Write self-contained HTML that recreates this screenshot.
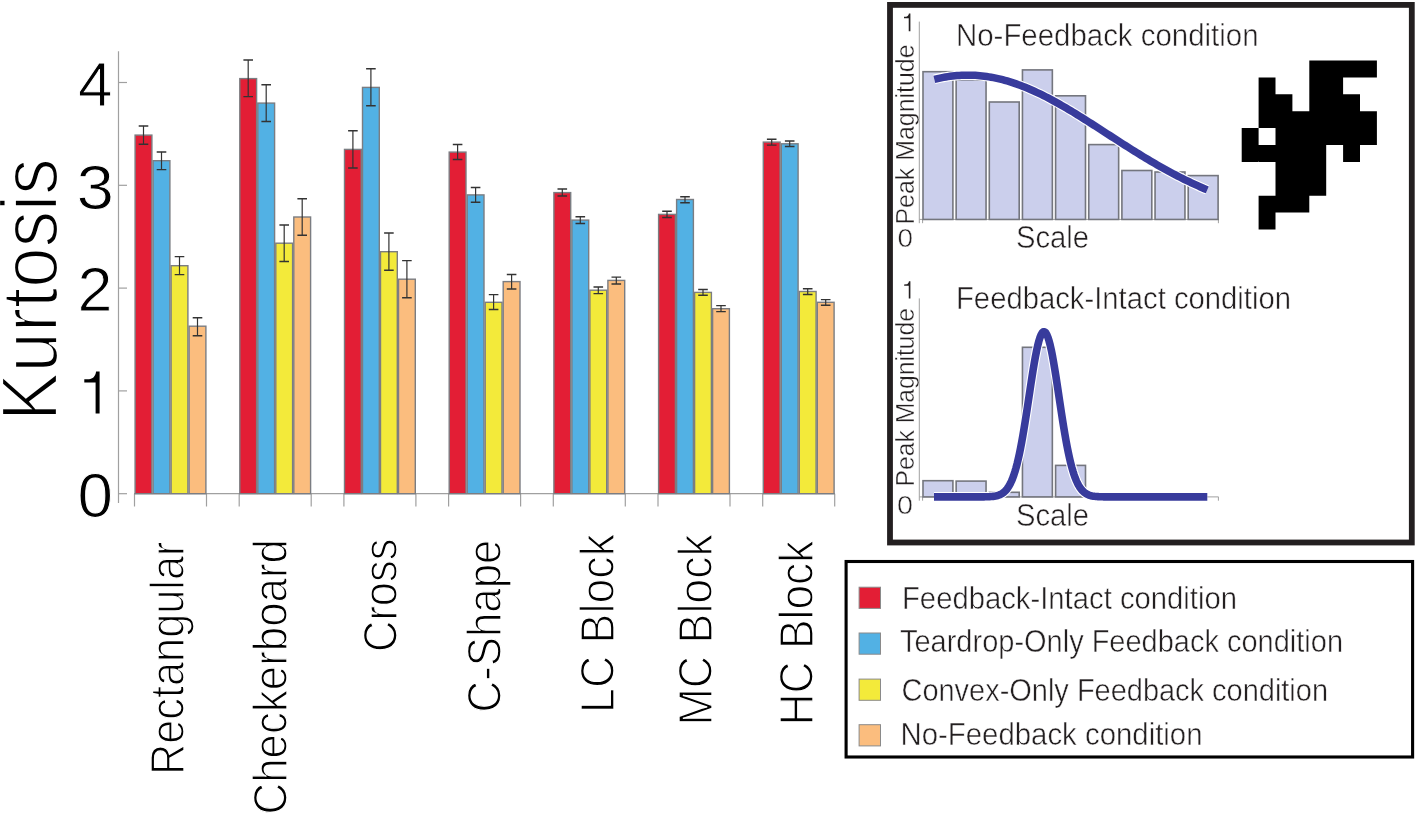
<!DOCTYPE html>
<html><head><meta charset="utf-8"><style>
html,body{margin:0;padding:0;background:#fff;overflow:hidden}
svg{display:block;will-change:transform}
text{font-family:"Liberation Sans", sans-serif;white-space:pre}
</style></head><body>
<svg width="1417" height="814" viewBox="0 0 1417 814">
<rect width="1417" height="814" fill="#fff"/>
<line x1="118.5" y1="51.2" x2="118.5" y2="503" stroke="#a0a0a0" stroke-width="1.2"/>
<line x1="118.5" y1="493.7" x2="127" y2="493.7" stroke="#a0a0a0" stroke-width="1.2"/>
<line x1="118.5" y1="390.9" x2="127" y2="390.9" stroke="#a0a0a0" stroke-width="1.2"/>
<line x1="118.5" y1="288.1" x2="127" y2="288.1" stroke="#a0a0a0" stroke-width="1.2"/>
<line x1="118.5" y1="185.3" x2="127" y2="185.3" stroke="#a0a0a0" stroke-width="1.2"/>
<line x1="118.5" y1="82.5" x2="127" y2="82.5" stroke="#a0a0a0" stroke-width="1.2"/>
<line x1="134" y1="493.7" x2="835" y2="493.7" stroke="#a0a0a0" stroke-width="1.2"/>
<line x1="134.5" y1="493.7" x2="134.5" y2="506.5" stroke="#a0a0a0" stroke-width="1.2"/>
<line x1="206.5" y1="493.7" x2="206.5" y2="506.5" stroke="#a0a0a0" stroke-width="1.2"/>
<line x1="239.2" y1="493.7" x2="239.2" y2="506.5" stroke="#a0a0a0" stroke-width="1.2"/>
<line x1="311.2" y1="493.7" x2="311.2" y2="506.5" stroke="#a0a0a0" stroke-width="1.2"/>
<line x1="343.9" y1="493.7" x2="343.9" y2="506.5" stroke="#a0a0a0" stroke-width="1.2"/>
<line x1="415.9" y1="493.7" x2="415.9" y2="506.5" stroke="#a0a0a0" stroke-width="1.2"/>
<line x1="448.6" y1="493.7" x2="448.6" y2="506.5" stroke="#a0a0a0" stroke-width="1.2"/>
<line x1="520.6" y1="493.7" x2="520.6" y2="506.5" stroke="#a0a0a0" stroke-width="1.2"/>
<line x1="553.3" y1="493.7" x2="553.3" y2="506.5" stroke="#a0a0a0" stroke-width="1.2"/>
<line x1="625.3" y1="493.7" x2="625.3" y2="506.5" stroke="#a0a0a0" stroke-width="1.2"/>
<line x1="658.0" y1="493.7" x2="658.0" y2="506.5" stroke="#a0a0a0" stroke-width="1.2"/>
<line x1="730.0" y1="493.7" x2="730.0" y2="506.5" stroke="#a0a0a0" stroke-width="1.2"/>
<line x1="762.7" y1="493.7" x2="762.7" y2="506.5" stroke="#a0a0a0" stroke-width="1.2"/>
<line x1="834.7" y1="493.7" x2="834.7" y2="506.5" stroke="#a0a0a0" stroke-width="1.2"/>
<rect x="135.1" y="135.1" width="16.8" height="358.6" fill="#e31e35" stroke="#7b7d82" stroke-width="1.4"/>
<rect x="153.1" y="160.7" width="16.8" height="333.0" fill="#52b1e4" stroke="#7b7d82" stroke-width="1.4"/>
<rect x="171.1" y="265.7" width="16.8" height="228.0" fill="#f3ea3a" stroke="#7b7d82" stroke-width="1.4"/>
<rect x="189.1" y="326.2" width="16.8" height="167.5" fill="#fbbd7e" stroke="#7b7d82" stroke-width="1.4"/>
<rect x="239.8" y="78.6" width="16.8" height="415.1" fill="#e31e35" stroke="#7b7d82" stroke-width="1.4"/>
<rect x="257.8" y="103.1" width="16.8" height="390.6" fill="#52b1e4" stroke="#7b7d82" stroke-width="1.4"/>
<rect x="275.8" y="243.2" width="16.8" height="250.5" fill="#f3ea3a" stroke="#7b7d82" stroke-width="1.4"/>
<rect x="293.8" y="217.0" width="16.8" height="276.7" fill="#fbbd7e" stroke="#7b7d82" stroke-width="1.4"/>
<rect x="344.5" y="149.4" width="16.8" height="344.3" fill="#e31e35" stroke="#7b7d82" stroke-width="1.4"/>
<rect x="362.5" y="87.4" width="16.8" height="406.3" fill="#52b1e4" stroke="#7b7d82" stroke-width="1.4"/>
<rect x="380.5" y="251.7" width="16.8" height="242.0" fill="#f3ea3a" stroke="#7b7d82" stroke-width="1.4"/>
<rect x="398.5" y="279.2" width="16.8" height="214.5" fill="#fbbd7e" stroke="#7b7d82" stroke-width="1.4"/>
<rect x="449.2" y="152.1" width="16.8" height="341.6" fill="#e31e35" stroke="#7b7d82" stroke-width="1.4"/>
<rect x="467.2" y="194.9" width="16.8" height="298.8" fill="#52b1e4" stroke="#7b7d82" stroke-width="1.4"/>
<rect x="485.2" y="302.3" width="16.8" height="191.4" fill="#f3ea3a" stroke="#7b7d82" stroke-width="1.4"/>
<rect x="503.2" y="281.6" width="16.8" height="212.1" fill="#fbbd7e" stroke="#7b7d82" stroke-width="1.4"/>
<rect x="553.9" y="192.6" width="16.8" height="301.1" fill="#e31e35" stroke="#7b7d82" stroke-width="1.4"/>
<rect x="571.9" y="220.1" width="16.8" height="273.6" fill="#52b1e4" stroke="#7b7d82" stroke-width="1.4"/>
<rect x="589.9" y="290.2" width="16.8" height="203.5" fill="#f3ea3a" stroke="#7b7d82" stroke-width="1.4"/>
<rect x="607.9" y="280.4" width="16.8" height="213.3" fill="#fbbd7e" stroke="#7b7d82" stroke-width="1.4"/>
<rect x="658.6" y="214.4" width="16.8" height="279.3" fill="#e31e35" stroke="#7b7d82" stroke-width="1.4"/>
<rect x="676.6" y="199.5" width="16.8" height="294.2" fill="#52b1e4" stroke="#7b7d82" stroke-width="1.4"/>
<rect x="694.6" y="292.4" width="16.8" height="201.3" fill="#f3ea3a" stroke="#7b7d82" stroke-width="1.4"/>
<rect x="712.6" y="308.7" width="16.8" height="185.0" fill="#fbbd7e" stroke="#7b7d82" stroke-width="1.4"/>
<rect x="763.3" y="142.1" width="16.8" height="351.6" fill="#e31e35" stroke="#7b7d82" stroke-width="1.4"/>
<rect x="781.3" y="143.8" width="16.8" height="349.9" fill="#52b1e4" stroke="#7b7d82" stroke-width="1.4"/>
<rect x="799.3" y="291.5" width="16.8" height="202.2" fill="#f3ea3a" stroke="#7b7d82" stroke-width="1.4"/>
<rect x="817.3" y="302.3" width="16.8" height="191.4" fill="#fbbd7e" stroke="#7b7d82" stroke-width="1.4"/>
<path d="M143.5 125.9V144.2" stroke="#333" stroke-width="1.2" fill="none"/>
<path d="M138.7 125.9h9.6M138.7 144.2h9.6" stroke="#333" stroke-width="1.45" fill="none"/>
<path d="M161.5 151.9V169.6" stroke="#333" stroke-width="1.2" fill="none"/>
<path d="M156.7 151.9h9.6M156.7 169.6h9.6" stroke="#333" stroke-width="1.45" fill="none"/>
<path d="M179.5 256.6V274.6" stroke="#333" stroke-width="1.2" fill="none"/>
<path d="M174.7 256.6h9.6M174.7 274.6h9.6" stroke="#333" stroke-width="1.45" fill="none"/>
<path d="M197.5 317.7V335.7" stroke="#333" stroke-width="1.2" fill="none"/>
<path d="M192.7 317.7h9.6M192.7 335.7h9.6" stroke="#333" stroke-width="1.45" fill="none"/>
<path d="M248.2 60.0V96.6" stroke="#333" stroke-width="1.2" fill="none"/>
<path d="M243.4 60.0h9.6M243.4 96.6h9.6" stroke="#333" stroke-width="1.45" fill="none"/>
<path d="M266.2 84.8V121.4" stroke="#333" stroke-width="1.2" fill="none"/>
<path d="M261.4 84.8h9.6M261.4 121.4h9.6" stroke="#333" stroke-width="1.45" fill="none"/>
<path d="M284.2 224.9V261.5" stroke="#333" stroke-width="1.2" fill="none"/>
<path d="M279.4 224.9h9.6M279.4 261.5h9.6" stroke="#333" stroke-width="1.45" fill="none"/>
<path d="M302.2 198.7V235.2" stroke="#333" stroke-width="1.2" fill="none"/>
<path d="M297.4 198.7h9.6M297.4 235.2h9.6" stroke="#333" stroke-width="1.45" fill="none"/>
<path d="M352.9 130.8V168.0" stroke="#333" stroke-width="1.2" fill="none"/>
<path d="M348.1 130.8h9.6M348.1 168.0h9.6" stroke="#333" stroke-width="1.45" fill="none"/>
<path d="M370.9 68.8V105.7" stroke="#333" stroke-width="1.2" fill="none"/>
<path d="M366.1 68.8h9.6M366.1 105.7h9.6" stroke="#333" stroke-width="1.45" fill="none"/>
<path d="M388.9 232.9V270.3" stroke="#333" stroke-width="1.2" fill="none"/>
<path d="M384.1 232.9h9.6M384.1 270.3h9.6" stroke="#333" stroke-width="1.45" fill="none"/>
<path d="M406.9 260.6V297.8" stroke="#333" stroke-width="1.2" fill="none"/>
<path d="M402.1 260.6h9.6M402.1 297.8h9.6" stroke="#333" stroke-width="1.45" fill="none"/>
<path d="M457.6 144.5V159.5" stroke="#333" stroke-width="1.2" fill="none"/>
<path d="M452.8 144.5h9.6M452.8 159.5h9.6" stroke="#333" stroke-width="1.45" fill="none"/>
<path d="M475.6 187.5V202.3" stroke="#333" stroke-width="1.2" fill="none"/>
<path d="M470.8 187.5h9.6M470.8 202.3h9.6" stroke="#333" stroke-width="1.45" fill="none"/>
<path d="M493.6 294.6V309.4" stroke="#333" stroke-width="1.2" fill="none"/>
<path d="M488.8 294.6h9.6M488.8 309.4h9.6" stroke="#333" stroke-width="1.45" fill="none"/>
<path d="M511.6 274.5V289.0" stroke="#333" stroke-width="1.2" fill="none"/>
<path d="M506.8 274.5h9.6M506.8 289.0h9.6" stroke="#333" stroke-width="1.45" fill="none"/>
<path d="M562.3 189.0V195.9" stroke="#333" stroke-width="1.2" fill="none"/>
<path d="M557.5 189.0h9.6M557.5 195.9h9.6" stroke="#333" stroke-width="1.45" fill="none"/>
<path d="M580.3 216.8V223.4" stroke="#333" stroke-width="1.2" fill="none"/>
<path d="M575.5 216.8h9.6M575.5 223.4h9.6" stroke="#333" stroke-width="1.45" fill="none"/>
<path d="M598.3 286.9V293.6" stroke="#333" stroke-width="1.2" fill="none"/>
<path d="M593.5 286.9h9.6M593.5 293.6h9.6" stroke="#333" stroke-width="1.45" fill="none"/>
<path d="M616.3 277.1V284.0" stroke="#333" stroke-width="1.2" fill="none"/>
<path d="M611.5 277.1h9.6M611.5 284.0h9.6" stroke="#333" stroke-width="1.45" fill="none"/>
<path d="M667.0 211.3V217.5" stroke="#333" stroke-width="1.2" fill="none"/>
<path d="M662.2 211.3h9.6M662.2 217.5h9.6" stroke="#333" stroke-width="1.45" fill="none"/>
<path d="M685.0 196.7V202.8" stroke="#333" stroke-width="1.2" fill="none"/>
<path d="M680.2 196.7h9.6M680.2 202.8h9.6" stroke="#333" stroke-width="1.45" fill="none"/>
<path d="M703.0 289.5V295.3" stroke="#333" stroke-width="1.2" fill="none"/>
<path d="M698.2 289.5h9.6M698.2 295.3h9.6" stroke="#333" stroke-width="1.45" fill="none"/>
<path d="M721.0 305.6V311.6" stroke="#333" stroke-width="1.2" fill="none"/>
<path d="M716.2 305.6h9.6M716.2 311.6h9.6" stroke="#333" stroke-width="1.45" fill="none"/>
<path d="M771.7 139.2V145.1" stroke="#333" stroke-width="1.2" fill="none"/>
<path d="M766.9 139.2h9.6M766.9 145.1h9.6" stroke="#333" stroke-width="1.45" fill="none"/>
<path d="M789.7 140.9V146.5" stroke="#333" stroke-width="1.2" fill="none"/>
<path d="M784.9 140.9h9.6M784.9 146.5h9.6" stroke="#333" stroke-width="1.45" fill="none"/>
<path d="M807.7 288.8V294.4" stroke="#333" stroke-width="1.2" fill="none"/>
<path d="M802.9 288.8h9.6M802.9 294.4h9.6" stroke="#333" stroke-width="1.45" fill="none"/>
<path d="M825.7 299.6V305.3" stroke="#333" stroke-width="1.2" fill="none"/>
<path d="M820.9 299.6h9.6M820.9 305.3h9.6" stroke="#333" stroke-width="1.45" fill="none"/>
<rect x="890.0" y="4.9" width="521.8" height="537.6" fill="none" stroke="#231f20" stroke-width="5.8"/>
<line x1="919.3" y1="21.6" x2="919.3" y2="223.2" stroke="#a0a0a0" stroke-width="1"/>
<line x1="919.3" y1="219.4" x2="1218.5" y2="219.4" stroke="#a0a0a0" stroke-width="1"/>
<line x1="922.6" y1="219.4" x2="922.6" y2="223.2" stroke="#a0a0a0" stroke-width="1"/>
<line x1="1218.4" y1="219.4" x2="1218.4" y2="223.2" stroke="#a0a0a0" stroke-width="1"/>
<rect x="923.00" y="71.70" width="29.9" height="147.75" fill="#cbcfec" stroke="#74767e" stroke-width="1.6"/>
<rect x="956.15" y="79.80" width="29.9" height="139.65" fill="#cbcfec" stroke="#74767e" stroke-width="1.6"/>
<rect x="989.30" y="102.00" width="29.9" height="117.45" fill="#cbcfec" stroke="#74767e" stroke-width="1.6"/>
<rect x="1022.45" y="69.90" width="29.9" height="149.55" fill="#cbcfec" stroke="#74767e" stroke-width="1.6"/>
<rect x="1055.60" y="95.80" width="29.9" height="123.65" fill="#cbcfec" stroke="#74767e" stroke-width="1.6"/>
<rect x="1088.75" y="144.60" width="29.9" height="74.85" fill="#cbcfec" stroke="#74767e" stroke-width="1.6"/>
<rect x="1121.90" y="170.50" width="29.9" height="48.95" fill="#cbcfec" stroke="#74767e" stroke-width="1.6"/>
<rect x="1155.05" y="172.00" width="29.9" height="47.45" fill="#cbcfec" stroke="#74767e" stroke-width="1.6"/>
<rect x="1188.20" y="175.60" width="29.9" height="43.85" fill="#cbcfec" stroke="#74767e" stroke-width="1.6"/>
<line x1="919.3" y1="298.4" x2="919.3" y2="500.7" stroke="#a0a0a0" stroke-width="1"/>
<line x1="919.3" y1="496.9" x2="1218.5" y2="496.9" stroke="#a0a0a0" stroke-width="1"/>
<line x1="922.6" y1="496.9" x2="922.6" y2="500.7" stroke="#a0a0a0" stroke-width="1"/>
<line x1="1218.4" y1="496.9" x2="1218.4" y2="500.7" stroke="#a0a0a0" stroke-width="1"/>
<rect x="923.00" y="480.70" width="29.9" height="16.20" fill="#cbcfec" stroke="#74767e" stroke-width="1.6"/>
<rect x="956.15" y="481.10" width="29.9" height="15.80" fill="#cbcfec" stroke="#74767e" stroke-width="1.6"/>
<rect x="989.30" y="492.30" width="29.9" height="4.60" fill="#cbcfec" stroke="#74767e" stroke-width="1.6"/>
<rect x="1022.45" y="347.30" width="29.9" height="149.60" fill="#cbcfec" stroke="#74767e" stroke-width="1.6"/>
<rect x="1055.60" y="465.40" width="29.9" height="31.50" fill="#cbcfec" stroke="#74767e" stroke-width="1.6"/>
<path d="M934.30,79.35 L936.57,78.80 L938.85,78.29 L941.12,77.81 L943.40,77.38 L945.67,76.98 L947.95,76.62 L950.22,76.30 L952.50,76.01 L954.77,75.77 L957.05,75.56 L959.32,75.40 L961.60,75.27 L963.88,75.19 L966.15,75.14 L968.42,75.13 L970.70,75.16 L972.97,75.24 L975.25,75.35 L977.52,75.50 L979.80,75.69 L982.07,75.92 L984.35,76.19 L986.62,76.50 L988.90,76.84 L991.17,77.23 L993.45,77.65 L995.72,78.11 L998.00,78.61 L1000.27,79.14 L1002.55,79.72 L1004.82,80.32 L1007.10,80.97 L1009.38,81.64 L1011.65,82.36 L1013.92,83.10 L1016.20,83.88 L1018.47,84.70 L1020.75,85.54 L1023.02,86.42 L1025.30,87.33 L1027.58,88.26 L1029.85,89.23 L1032.12,90.23 L1034.40,91.25 L1036.67,92.30 L1038.95,93.38 L1041.22,94.48 L1043.50,95.61 L1045.77,96.76 L1048.05,97.94 L1050.33,99.14 L1052.60,100.36 L1054.88,101.60 L1057.15,102.86 L1059.42,104.13 L1061.70,105.43 L1063.97,106.74 L1066.25,108.08 L1068.52,109.42 L1070.80,110.78 L1073.08,112.15 L1075.35,113.54 L1077.62,114.94 L1079.90,116.35 L1082.17,117.77 L1084.45,119.20 L1086.72,120.63 L1089.00,122.08 L1091.27,123.53 L1093.55,124.98 L1095.83,126.44 L1098.10,127.91 L1100.38,129.38 L1102.65,130.85 L1104.92,132.32 L1107.20,133.79 L1109.47,135.26 L1111.75,136.74 L1114.02,138.20 L1116.30,139.67 L1118.58,141.14 L1120.85,142.60 L1123.12,144.05 L1125.40,145.50 L1127.67,146.95 L1129.95,148.38 L1132.22,149.81 L1134.50,151.24 L1136.77,152.65 L1139.05,154.06 L1141.33,155.45 L1143.60,156.84 L1145.88,158.21 L1148.15,159.57 L1150.42,160.93 L1152.70,162.27 L1154.97,163.59 L1157.25,164.91 L1159.52,166.21 L1161.80,167.49 L1164.08,168.77 L1166.35,170.02 L1168.62,171.27 L1170.90,172.49 L1173.17,173.71 L1175.45,174.90 L1177.72,176.08 L1180.00,177.25 L1182.27,178.40 L1184.55,179.53 L1186.83,180.64 L1189.10,181.74 L1191.38,182.82 L1193.65,183.88 L1195.92,184.93 L1198.20,185.95 L1200.47,186.96 L1202.75,187.96 L1205.03,188.93 L1207.30,189.89" fill="none" stroke="#fff" stroke-width="9.7" stroke-linejoin="round"/>
<path d="M934.30,79.35 L936.57,78.80 L938.85,78.29 L941.12,77.81 L943.40,77.38 L945.67,76.98 L947.95,76.62 L950.22,76.30 L952.50,76.01 L954.77,75.77 L957.05,75.56 L959.32,75.40 L961.60,75.27 L963.88,75.19 L966.15,75.14 L968.42,75.13 L970.70,75.16 L972.97,75.24 L975.25,75.35 L977.52,75.50 L979.80,75.69 L982.07,75.92 L984.35,76.19 L986.62,76.50 L988.90,76.84 L991.17,77.23 L993.45,77.65 L995.72,78.11 L998.00,78.61 L1000.27,79.14 L1002.55,79.72 L1004.82,80.32 L1007.10,80.97 L1009.38,81.64 L1011.65,82.36 L1013.92,83.10 L1016.20,83.88 L1018.47,84.70 L1020.75,85.54 L1023.02,86.42 L1025.30,87.33 L1027.58,88.26 L1029.85,89.23 L1032.12,90.23 L1034.40,91.25 L1036.67,92.30 L1038.95,93.38 L1041.22,94.48 L1043.50,95.61 L1045.77,96.76 L1048.05,97.94 L1050.33,99.14 L1052.60,100.36 L1054.88,101.60 L1057.15,102.86 L1059.42,104.13 L1061.70,105.43 L1063.97,106.74 L1066.25,108.08 L1068.52,109.42 L1070.80,110.78 L1073.08,112.15 L1075.35,113.54 L1077.62,114.94 L1079.90,116.35 L1082.17,117.77 L1084.45,119.20 L1086.72,120.63 L1089.00,122.08 L1091.27,123.53 L1093.55,124.98 L1095.83,126.44 L1098.10,127.91 L1100.38,129.38 L1102.65,130.85 L1104.92,132.32 L1107.20,133.79 L1109.47,135.26 L1111.75,136.74 L1114.02,138.20 L1116.30,139.67 L1118.58,141.14 L1120.85,142.60 L1123.12,144.05 L1125.40,145.50 L1127.67,146.95 L1129.95,148.38 L1132.22,149.81 L1134.50,151.24 L1136.77,152.65 L1139.05,154.06 L1141.33,155.45 L1143.60,156.84 L1145.88,158.21 L1148.15,159.57 L1150.42,160.93 L1152.70,162.27 L1154.97,163.59 L1157.25,164.91 L1159.52,166.21 L1161.80,167.49 L1164.08,168.77 L1166.35,170.02 L1168.62,171.27 L1170.90,172.49 L1173.17,173.71 L1175.45,174.90 L1177.72,176.08 L1180.00,177.25 L1182.27,178.40 L1184.55,179.53 L1186.83,180.64 L1189.10,181.74 L1191.38,182.82 L1193.65,183.88 L1195.92,184.93 L1198.20,185.95 L1200.47,186.96 L1202.75,187.96 L1205.03,188.93 L1207.30,189.89" fill="none" stroke="#383b9c" stroke-width="7.5" stroke-linejoin="round"/>
<path d="M934.00,496.90 L935.14,496.90 L936.28,496.90 L937.42,496.90 L938.55,496.90 L939.69,496.90 L940.83,496.90 L941.97,496.90 L943.11,496.90 L944.25,496.90 L945.39,496.90 L946.53,496.90 L947.66,496.90 L948.80,496.90 L949.94,496.90 L951.08,496.90 L952.22,496.90 L953.36,496.90 L954.50,496.90 L955.64,496.90 L956.77,496.90 L957.91,496.90 L959.05,496.90 L960.19,496.90 L961.33,496.90 L962.47,496.90 L963.61,496.90 L964.75,496.90 L965.88,496.90 L967.02,496.90 L968.16,496.90 L969.30,496.90 L970.44,496.90 L971.58,496.90 L972.72,496.90 L973.86,496.90 L975.00,496.90 L976.13,496.89 L977.27,496.89 L978.41,496.89 L979.55,496.88 L980.69,496.88 L981.83,496.87 L982.97,496.86 L984.11,496.84 L985.24,496.82 L986.38,496.80 L987.52,496.76 L988.66,496.72 L989.80,496.66 L990.94,496.58 L992.08,496.49 L993.22,496.36 L994.35,496.21 L995.49,496.01 L996.63,495.77 L997.77,495.47 L998.91,495.10 L1000.05,494.64 L1001.19,494.09 L1002.33,493.42 L1003.46,492.61 L1004.60,491.65 L1005.74,490.51 L1006.88,489.17 L1008.02,487.60 L1009.16,485.77 L1010.30,483.67 L1011.43,481.25 L1012.57,478.50 L1013.71,475.39 L1014.85,471.90 L1015.99,468.00 L1017.13,463.70 L1018.27,458.97 L1019.41,453.82 L1020.54,448.25 L1021.68,442.28 L1022.82,435.92 L1023.96,429.22 L1025.10,422.21 L1026.24,414.95 L1027.38,407.50 L1028.52,399.93 L1029.65,392.33 L1030.79,384.78 L1031.93,377.37 L1033.07,370.21 L1034.21,363.39 L1035.35,357.01 L1036.49,351.17 L1037.63,345.96 L1038.76,341.46 L1039.90,337.75 L1041.04,334.88 L1042.18,332.91 L1043.32,331.87 L1044.46,331.78 L1045.60,332.63 L1046.74,334.43 L1047.88,337.12 L1049.01,340.68 L1050.15,345.03 L1051.29,350.11 L1052.43,355.83 L1053.57,362.11 L1054.71,368.86 L1055.85,375.96 L1056.98,383.32 L1058.12,390.85 L1059.26,398.45 L1060.40,406.03 L1061.54,413.51 L1062.68,420.82 L1063.82,427.88 L1064.96,434.65 L1066.10,441.07 L1067.23,447.12 L1068.37,452.77 L1069.51,458.00 L1070.65,462.81 L1071.79,467.20 L1072.93,471.17 L1074.07,474.74 L1075.20,477.92 L1076.34,480.74 L1077.48,483.22 L1078.62,485.39 L1079.76,487.26 L1080.90,488.88 L1082.04,490.27 L1083.18,491.44 L1084.32,492.44 L1085.45,493.27 L1086.59,493.97 L1087.73,494.54 L1088.87,495.02 L1090.01,495.40 L1091.15,495.72 L1092.29,495.97 L1093.42,496.17 L1094.56,496.34 L1095.70,496.47 L1096.84,496.57 L1097.98,496.65 L1099.12,496.71 L1100.26,496.75 L1101.40,496.79 L1102.53,496.82 L1103.67,496.84 L1104.81,496.86 L1105.95,496.87 L1107.09,496.88 L1108.23,496.88 L1109.37,496.89 L1110.51,496.89 L1111.64,496.89 L1112.78,496.90 L1113.92,496.90 L1115.06,496.90 L1116.20,496.90 L1117.34,496.90 L1118.48,496.90 L1119.62,496.90 L1120.75,496.90 L1121.89,496.90 L1123.03,496.90 L1124.17,496.90 L1125.31,496.90 L1126.45,496.90 L1127.59,496.90 L1128.73,496.90 L1129.87,496.90 L1131.00,496.90 L1132.14,496.90 L1133.28,496.90 L1134.42,496.90 L1135.56,496.90 L1136.70,496.90 L1137.84,496.90 L1138.97,496.90 L1140.11,496.90 L1141.25,496.90 L1142.39,496.90 L1143.53,496.90 L1144.67,496.90 L1145.81,496.90 L1146.95,496.90 L1148.09,496.90 L1149.22,496.90 L1150.36,496.90 L1151.50,496.90 L1152.64,496.90 L1153.78,496.90 L1154.92,496.90 L1156.06,496.90 L1157.19,496.90 L1158.33,496.90 L1159.47,496.90 L1160.61,496.90 L1161.75,496.90 L1162.89,496.90 L1164.03,496.90 L1165.17,496.90 L1166.30,496.90 L1167.44,496.90 L1168.58,496.90 L1169.72,496.90 L1170.86,496.90 L1172.00,496.90 L1173.14,496.90 L1174.28,496.90 L1175.41,496.90 L1176.55,496.90 L1177.69,496.90 L1178.83,496.90 L1179.97,496.90 L1181.11,496.90 L1182.25,496.90 L1183.39,496.90 L1184.53,496.90 L1185.66,496.90 L1186.80,496.90 L1187.94,496.90 L1189.08,496.90 L1190.22,496.90 L1191.36,496.90 L1192.50,496.90 L1193.63,496.90 L1194.77,496.90 L1195.91,496.90 L1197.05,496.90 L1198.19,496.90 L1199.33,496.90 L1200.47,496.90 L1201.61,496.90 L1202.74,496.90 L1203.88,496.90 L1205.02,496.90 L1206.16,496.90 L1207.30,496.90" fill="none" stroke="#fff" stroke-width="9.8" stroke-linejoin="round"/>
<path d="M934.00,496.90 L935.14,496.90 L936.28,496.90 L937.42,496.90 L938.55,496.90 L939.69,496.90 L940.83,496.90 L941.97,496.90 L943.11,496.90 L944.25,496.90 L945.39,496.90 L946.53,496.90 L947.66,496.90 L948.80,496.90 L949.94,496.90 L951.08,496.90 L952.22,496.90 L953.36,496.90 L954.50,496.90 L955.64,496.90 L956.77,496.90 L957.91,496.90 L959.05,496.90 L960.19,496.90 L961.33,496.90 L962.47,496.90 L963.61,496.90 L964.75,496.90 L965.88,496.90 L967.02,496.90 L968.16,496.90 L969.30,496.90 L970.44,496.90 L971.58,496.90 L972.72,496.90 L973.86,496.90 L975.00,496.90 L976.13,496.89 L977.27,496.89 L978.41,496.89 L979.55,496.88 L980.69,496.88 L981.83,496.87 L982.97,496.86 L984.11,496.84 L985.24,496.82 L986.38,496.80 L987.52,496.76 L988.66,496.72 L989.80,496.66 L990.94,496.58 L992.08,496.49 L993.22,496.36 L994.35,496.21 L995.49,496.01 L996.63,495.77 L997.77,495.47 L998.91,495.10 L1000.05,494.64 L1001.19,494.09 L1002.33,493.42 L1003.46,492.61 L1004.60,491.65 L1005.74,490.51 L1006.88,489.17 L1008.02,487.60 L1009.16,485.77 L1010.30,483.67 L1011.43,481.25 L1012.57,478.50 L1013.71,475.39 L1014.85,471.90 L1015.99,468.00 L1017.13,463.70 L1018.27,458.97 L1019.41,453.82 L1020.54,448.25 L1021.68,442.28 L1022.82,435.92 L1023.96,429.22 L1025.10,422.21 L1026.24,414.95 L1027.38,407.50 L1028.52,399.93 L1029.65,392.33 L1030.79,384.78 L1031.93,377.37 L1033.07,370.21 L1034.21,363.39 L1035.35,357.01 L1036.49,351.17 L1037.63,345.96 L1038.76,341.46 L1039.90,337.75 L1041.04,334.88 L1042.18,332.91 L1043.32,331.87 L1044.46,331.78 L1045.60,332.63 L1046.74,334.43 L1047.88,337.12 L1049.01,340.68 L1050.15,345.03 L1051.29,350.11 L1052.43,355.83 L1053.57,362.11 L1054.71,368.86 L1055.85,375.96 L1056.98,383.32 L1058.12,390.85 L1059.26,398.45 L1060.40,406.03 L1061.54,413.51 L1062.68,420.82 L1063.82,427.88 L1064.96,434.65 L1066.10,441.07 L1067.23,447.12 L1068.37,452.77 L1069.51,458.00 L1070.65,462.81 L1071.79,467.20 L1072.93,471.17 L1074.07,474.74 L1075.20,477.92 L1076.34,480.74 L1077.48,483.22 L1078.62,485.39 L1079.76,487.26 L1080.90,488.88 L1082.04,490.27 L1083.18,491.44 L1084.32,492.44 L1085.45,493.27 L1086.59,493.97 L1087.73,494.54 L1088.87,495.02 L1090.01,495.40 L1091.15,495.72 L1092.29,495.97 L1093.42,496.17 L1094.56,496.34 L1095.70,496.47 L1096.84,496.57 L1097.98,496.65 L1099.12,496.71 L1100.26,496.75 L1101.40,496.79 L1102.53,496.82 L1103.67,496.84 L1104.81,496.86 L1105.95,496.87 L1107.09,496.88 L1108.23,496.88 L1109.37,496.89 L1110.51,496.89 L1111.64,496.89 L1112.78,496.90 L1113.92,496.90 L1115.06,496.90 L1116.20,496.90 L1117.34,496.90 L1118.48,496.90 L1119.62,496.90 L1120.75,496.90 L1121.89,496.90 L1123.03,496.90 L1124.17,496.90 L1125.31,496.90 L1126.45,496.90 L1127.59,496.90 L1128.73,496.90 L1129.87,496.90 L1131.00,496.90 L1132.14,496.90 L1133.28,496.90 L1134.42,496.90 L1135.56,496.90 L1136.70,496.90 L1137.84,496.90 L1138.97,496.90 L1140.11,496.90 L1141.25,496.90 L1142.39,496.90 L1143.53,496.90 L1144.67,496.90 L1145.81,496.90 L1146.95,496.90 L1148.09,496.90 L1149.22,496.90 L1150.36,496.90 L1151.50,496.90 L1152.64,496.90 L1153.78,496.90 L1154.92,496.90 L1156.06,496.90 L1157.19,496.90 L1158.33,496.90 L1159.47,496.90 L1160.61,496.90 L1161.75,496.90 L1162.89,496.90 L1164.03,496.90 L1165.17,496.90 L1166.30,496.90 L1167.44,496.90 L1168.58,496.90 L1169.72,496.90 L1170.86,496.90 L1172.00,496.90 L1173.14,496.90 L1174.28,496.90 L1175.41,496.90 L1176.55,496.90 L1177.69,496.90 L1178.83,496.90 L1179.97,496.90 L1181.11,496.90 L1182.25,496.90 L1183.39,496.90 L1184.53,496.90 L1185.66,496.90 L1186.80,496.90 L1187.94,496.90 L1189.08,496.90 L1190.22,496.90 L1191.36,496.90 L1192.50,496.90 L1193.63,496.90 L1194.77,496.90 L1195.91,496.90 L1197.05,496.90 L1198.19,496.90 L1199.33,496.90 L1200.47,496.90 L1201.61,496.90 L1202.74,496.90 L1203.88,496.90 L1205.02,496.90 L1206.16,496.90 L1207.30,496.90" fill="none" stroke="#383b9c" stroke-width="7.6" stroke-linejoin="round"/>
<path d="M1309.30 60.50h16.9v16.9h-16.9zM1326.20 60.50h16.9v16.9h-16.9zM1343.10 60.50h16.9v16.9h-16.9zM1360.00 60.50h16.9v16.9h-16.9zM1258.60 77.40h16.9v16.9h-16.9zM1309.30 77.40h16.9v16.9h-16.9zM1326.20 77.40h16.9v16.9h-16.9zM1258.60 94.30h16.9v16.9h-16.9zM1275.50 94.30h16.9v16.9h-16.9zM1309.30 94.30h16.9v16.9h-16.9zM1326.20 94.30h16.9v16.9h-16.9zM1343.10 94.30h16.9v16.9h-16.9zM1258.60 111.20h16.9v16.9h-16.9zM1275.50 111.20h16.9v16.9h-16.9zM1292.40 111.20h16.9v16.9h-16.9zM1309.30 111.20h16.9v16.9h-16.9zM1326.20 111.20h16.9v16.9h-16.9zM1343.10 111.20h16.9v16.9h-16.9zM1360.00 111.20h16.9v16.9h-16.9zM1241.70 128.10h16.9v16.9h-16.9zM1275.50 128.10h16.9v16.9h-16.9zM1292.40 128.10h16.9v16.9h-16.9zM1309.30 128.10h16.9v16.9h-16.9zM1326.20 128.10h16.9v16.9h-16.9zM1343.10 128.10h16.9v16.9h-16.9zM1360.00 128.10h16.9v16.9h-16.9zM1241.70 145.00h16.9v16.9h-16.9zM1258.60 145.00h16.9v16.9h-16.9zM1275.50 145.00h16.9v16.9h-16.9zM1292.40 145.00h16.9v16.9h-16.9zM1309.30 145.00h16.9v16.9h-16.9zM1343.10 145.00h16.9v16.9h-16.9zM1275.50 161.90h16.9v16.9h-16.9zM1292.40 161.90h16.9v16.9h-16.9zM1309.30 161.90h16.9v16.9h-16.9zM1275.50 178.80h16.9v16.9h-16.9zM1292.40 178.80h16.9v16.9h-16.9zM1309.30 178.80h16.9v16.9h-16.9zM1258.60 195.70h16.9v16.9h-16.9zM1275.50 195.70h16.9v16.9h-16.9zM1292.40 195.70h16.9v16.9h-16.9zM1258.60 212.60h16.9v16.9h-16.9z" fill="#000"/>
<rect x="846.1" y="561.5" width="566.5" height="195.5" fill="none" stroke="#000" stroke-width="3.1"/>
<rect x="859.1" y="587.2" width="21.4" height="21.2" fill="#e31e35" stroke="#8a8a8a" stroke-width="1"/>
<rect x="859.1" y="633.0" width="21.4" height="21.2" fill="#52b1e4" stroke="#8a8a8a" stroke-width="1"/>
<rect x="859.1" y="679.1" width="21.4" height="21.2" fill="#f3ea3a" stroke="#8a8a8a" stroke-width="1"/>
<rect x="859.1" y="724.7" width="21.4" height="21.2" fill="#fbbd7e" stroke="#8a8a8a" stroke-width="1"/>
<path transform="translate(99.6 413.6)" d="M-15.3 -34.3L-10.6 -34.4C-7.1 -34.6 -4.1 -37.1 -3.5 -42.1L0 -42.1L0 0L-4 0L-4 -31.2L-15.3 -31.2Z" fill="#000"/>
<path transform="translate(910.4 31.2) scale(0.418)" d="M-15.3 -34.3L-10.6 -34.4C-7.1 -34.6 -4.1 -37.1 -3.5 -42.1L0 -42.1L0 0L-4 0L-4 -31.2L-15.3 -31.2Z" fill="#231f20"/>
<path transform="translate(910.4 298.4) scale(0.408)" d="M-15.3 -34.3L-10.6 -34.4C-7.1 -34.6 -4.1 -37.1 -3.5 -42.1L0 -42.1L0 0L-4 0L-4 -31.2L-15.3 -31.2Z" fill="#231f20"/>
<text x="78.00" y="106.35" font-size="63.50" fill="#000" stroke="#fff" stroke-width="1.00" textLength="34.50" lengthAdjust="spacingAndGlyphs">4</text>
<text x="76.50" y="208.95" font-size="63.50" fill="#000" stroke="#fff" stroke-width="1.00" textLength="37.50" lengthAdjust="spacingAndGlyphs">3</text>
<text x="77.50" y="311.35" font-size="63.50" fill="#000" stroke="#fff" stroke-width="1.00" textLength="35.00" lengthAdjust="spacingAndGlyphs">2</text>
<text x="77.50" y="516.95" font-size="63.50" fill="#000" stroke="#fff" stroke-width="1.00" textLength="35.50" lengthAdjust="spacingAndGlyphs">0</text>
<text x="902.00" y="608.88" font-size="31.40" fill="#231f20" stroke="#fff" stroke-width="0.50" textLength="335.00" lengthAdjust="spacingAndGlyphs">Feedback-Intact condition</text>
<text x="900.00" y="651.57" font-size="31.40" fill="#231f20" stroke="#fff" stroke-width="0.50" textLength="443.00" lengthAdjust="spacingAndGlyphs">Teardrop-Only Feedback condition</text>
<text x="901.50" y="700.57" font-size="31.40" fill="#231f20" stroke="#fff" stroke-width="0.50" textLength="426.50" lengthAdjust="spacingAndGlyphs">Convex-Only Feedback condition</text>
<text x="900.50" y="745.07" font-size="31.40" fill="#231f20" stroke="#fff" stroke-width="0.50" textLength="302.00" lengthAdjust="spacingAndGlyphs">No-Feedback condition</text>
<text x="956.00" y="45.67" font-size="30.60" fill="#231f20" stroke="#fff" stroke-width="0.50" textLength="302.50" lengthAdjust="spacingAndGlyphs">No-Feedback condition</text>
<text x="956.00" y="309.17" font-size="30.60" fill="#231f20" stroke="#fff" stroke-width="0.50" textLength="335.00" lengthAdjust="spacingAndGlyphs">Feedback-Intact condition</text>
<text x="1016.00" y="247.68" font-size="30.60" fill="#231f20" stroke="#fff" stroke-width="0.50" textLength="73.00" lengthAdjust="spacingAndGlyphs">Scale</text>
<text x="1016.00" y="525.67" font-size="30.60" fill="#231f20" stroke="#fff" stroke-width="0.50" textLength="73.00" lengthAdjust="spacingAndGlyphs">Scale</text>
<text x="897.50" y="246.58" font-size="26.60" fill="#231f20" stroke="#fff" stroke-width="0.50" textLength="15.50" lengthAdjust="spacingAndGlyphs">0</text>
<text x="897.00" y="513.67" font-size="26.60" fill="#231f20" stroke="#fff" stroke-width="0.50" textLength="16.00" lengthAdjust="spacingAndGlyphs">0</text>
<text transform="translate(56.61 421.00) rotate(-90)" font-size="79.00" fill="#000" stroke="#fff" stroke-width="2.20" textLength="262.50" lengthAdjust="spacingAndGlyphs">Kurtosis</text>
<text transform="translate(184.23 775.00) rotate(-90)" font-size="47.60" fill="#000" stroke="#fff" stroke-width="1.33" textLength="233.50" lengthAdjust="spacingAndGlyphs">Rectangular</text>
<text transform="translate(286.93 814.50) rotate(-90)" font-size="47.60" fill="#000" stroke="#fff" stroke-width="1.33" textLength="275.50" lengthAdjust="spacingAndGlyphs">Checkerboard</text>
<text transform="translate(396.53 652.00) rotate(-90)" font-size="47.60" fill="#000" stroke="#fff" stroke-width="1.33" textLength="113.50" lengthAdjust="spacingAndGlyphs">Cross</text>
<text transform="translate(500.63 712.50) rotate(-90)" font-size="47.60" fill="#000" stroke="#fff" stroke-width="1.33" textLength="173.00" lengthAdjust="spacingAndGlyphs">C-Shape</text>
<text transform="translate(614.43 713.00) rotate(-90)" font-size="47.60" fill="#000" stroke="#fff" stroke-width="1.33" textLength="179.00" lengthAdjust="spacingAndGlyphs">LC Block</text>
<text transform="translate(711.63 725.50) rotate(-90)" font-size="47.60" fill="#000" stroke="#fff" stroke-width="1.33" textLength="191.50" lengthAdjust="spacingAndGlyphs">MC Block</text>
<text transform="translate(812.93 725.50) rotate(-90)" font-size="47.60" fill="#000" stroke="#fff" stroke-width="1.33" textLength="185.00" lengthAdjust="spacingAndGlyphs">HC Block</text>
<text transform="translate(914.22 224.50) rotate(-90)" font-size="26.70" fill="#231f20" stroke="#fff" stroke-width="0.40" textLength="180.00" lengthAdjust="spacingAndGlyphs">Peak Magnitude</text>
<text transform="translate(914.22 486.50) rotate(-90)" font-size="26.70" fill="#231f20" stroke="#fff" stroke-width="0.40" textLength="178.50" lengthAdjust="spacingAndGlyphs">Peak Magnitude</text>
</svg>
</body></html>
